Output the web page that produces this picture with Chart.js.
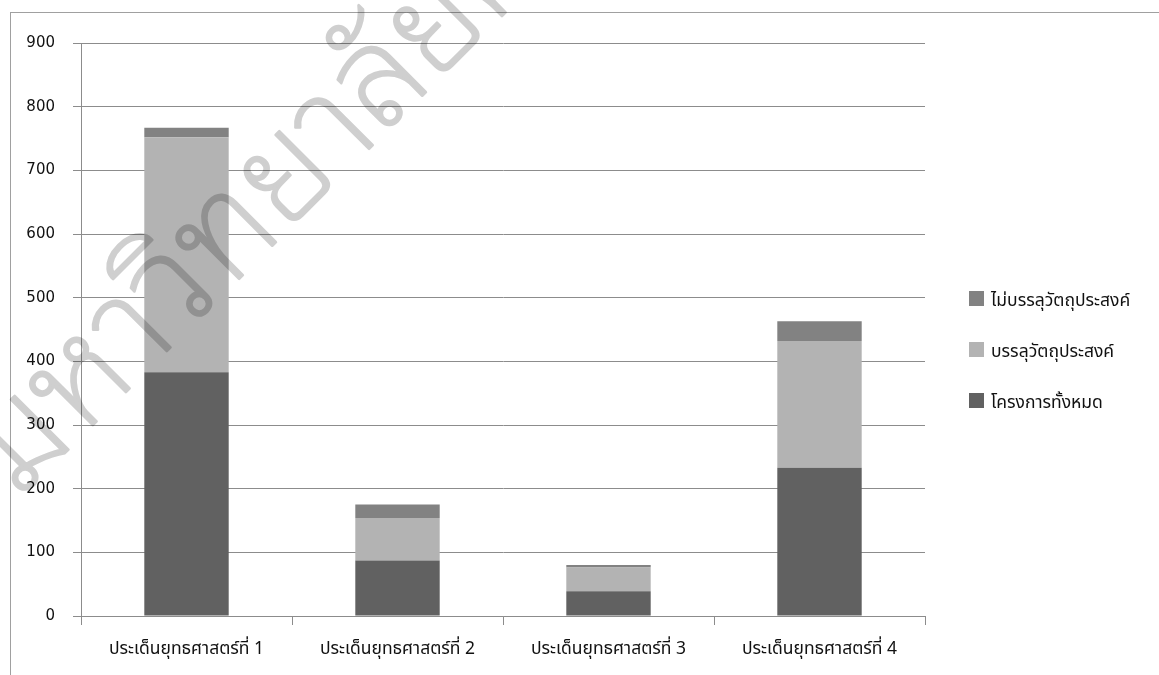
<!DOCTYPE html>
<html>
<head>
<meta charset="utf-8">
<title>โครงการตามประเด็นยุทธศาสตร์</title>
<script src="https://cdn.jsdelivr.net/npm/chart.js@4.4.1/dist/chart.umd.min.js"></script>
<style>
    html, body { margin: 0; padding: 0; background: #fff; }
    body { width: 1159px; height: 675px; overflow: hidden; position: relative; font-family: "DejaVu Sans", "Noto Sans Thai", sans-serif; }
    .frame { position: absolute; left: 10px; top: 12px; width: 1300px; height: 800px; border-left: 1px solid #a0a0a0; border-top: 1px solid #a0a0a0; }
    #chartBox { position: absolute; left: 0; top: 0; width: 1159px; height: 675px; }
    .legend { position: absolute; left: 969px; top: 287px; margin: 0; padding: 0; list-style: none; }
    .legend li { height: 51px; display: flex; align-items: flex-start; font-size: 17.5px; color: #111; white-space: nowrap; font-family: "Noto Sans Thai", "DejaVu Sans", sans-serif; }
    .legend .box { width: 15px; height: 15px; margin-right: 7px; margin-top: 4px; flex: none; }
    .watermark { position: absolute; left: 0; top: 0; pointer-events: none; mix-blend-mode: multiply; }
</style>
</head>
<body>
<div class="frame"></div>
<div id="chartBox"><canvas id="strategyChart" width="1159" height="675"></canvas></div>
<ul class="legend" id="legend"></ul>
<svg class="watermark" width="1159" height="675">
    <text x="18" y="500" transform="rotate(-45 18 500)" font-size="138" font-weight="200" fill="#cfcfcf" stroke="#cfcfcf" stroke-width="2.5" stroke-linejoin="round" font-family="'Noto Sans Thai Looped', 'Noto Serif Thai', 'Noto Sans Thai', sans-serif">มหาวิทยาลัยศรีนครินทรวิโรฒ</text>
</svg>
<script>
    // Data
    const categories = ["ประเด็นยุทธศาสตร์ที่ 1", "ประเด็นยุทธศาสตร์ที่ 2", "ประเด็นยุทธศาสตร์ที่ 3", "ประเด็นยุทธศาสตร์ที่ 4"];
    const seriesNames = ["โครงการทั้งหมด", "บรรลุวัตถุประสงค์", "ไม่บรรลุวัตถุประสงค์"];
    const allProjects = [383, 87, 39, 233];
    const achieved = [369, 67, 37, 199];
    const notAchieved = [15, 21, 4, 31];
    const yTicks = [0, 100, 200, 300, 400, 500, 600, 700, 800, 900];

    const colors = ["#616161", "#b3b3b3", "#828282"];
    const gridColor = "#8c8c8c";
    const numFont = { family: "'DejaVu Sans', sans-serif", size: 15 };
    const thaiFont = { family: "'Noto Sans Thai', 'DejaVu Sans', sans-serif", size: 17.5 };

    const chart = new Chart(document.getElementById("strategyChart"), {
        type: "bar",
        data: {
            labels: categories,
            datasets: [allProjects, achieved, notAchieved].map((d, i) => ({
                label: seriesNames[i],
                data: d,
                backgroundColor: colors[i],
                borderWidth: 0,
                categoryPercentage: 1,
                barPercentage: 0.4
            }))
        },
        options: {
            responsive: false,
            animation: false,
            layout: { padding: { left: 0, top: 43, right: 234, bottom: 0 } },
            plugins: { legend: { display: false }, tooltip: { enabled: false } },
            scales: {
                x: {
                    stacked: true,
                    grid: { offset: true, drawOnChartArea: false, drawTicks: true, tickLength: 9, color: gridColor },
                    border: { color: gridColor },
                    ticks: { color: "#111", font: thaiFont, padding: 15, maxRotation: 0 },
                    afterFit: s => { s.height = 59; }
                },
                y: {
                    stacked: true,
                    min: 0,
                    max: yTicks[yTicks.length - 1],
                    afterBuildTicks: s => { s.ticks = yTicks.map(v => ({ value: v })); },
                    grid: { color: gridColor, tickLength: 8 },
                    border: { color: gridColor },
                    ticks: { color: "#111", font: numFont, padding: 18 },
                    afterFit: s => { s.width = 81; }
                }
            }
        }
    });

    // Legend (top series first)
    const legend = document.getElementById("legend");
    chart.data.datasets.slice().reverse().forEach(ds => {
        const li = document.createElement("li");
        li.innerHTML = `<span class="box" style="background:${ds.backgroundColor}"></span><span>${ds.label}</span>`;
        legend.appendChild(li);
    });
</script>
</body>
</html>
